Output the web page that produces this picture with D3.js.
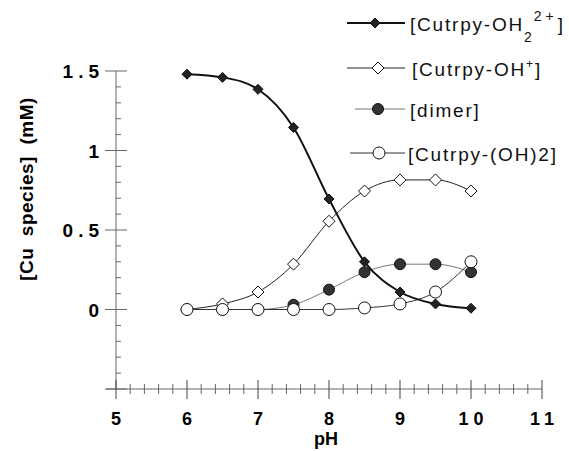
<!DOCTYPE html>
<html>
<head>
<meta charset="utf-8">
<script src="https://cdn.jsdelivr.net/npm/d3@7"></script>
<style>
  body { margin: 0; background: #fff; }
  text { font-family: "Liberation Sans", Arial, sans-serif; }
</style>
</head>
<body>
<script>
// data
let pH = [6, 6.5, 7, 7.5, 8, 8.5, 9, 9.5, 10]
let aqua = [1.48, 1.46, 1.385, 1.145, 0.695, 0.30, 0.11, 0.035, 0.008]
let hydroxo = [0, 0.035, 0.11, 0.285, 0.555, 0.745, 0.815, 0.815, 0.745]
let dimer = [0, 0, 0, 0.03, 0.125, 0.235, 0.285, 0.285, 0.235]
let dihydroxo = [0, 0, 0, 0, 0, 0.01, 0.035, 0.11, 0.30]
let xTicks = [5, 6, 7, 8, 9, 10, 11]
let yTicks = [0, 0.5, 1, 1.5]

let width = 569, height = 451

let svg = d3.select('body').append('svg')
  .attr('width', width)
  .attr('height', height)

let xScale = d3.scaleLinear().domain([5, 11]).range([116, 542])
let yScale = d3.scaleLinear().domain([-0.5, 1.5]).range([389, 71])

let axisCol = '#666'

// y axis
svg.append('line')
  .attr('x1', xScale(5)).attr('x2', xScale(5))
  .attr('y1', yScale(1.5)).attr('y2', yScale(-0.5))
  .attr('stroke', axisCol)
d3.range(-0.5, 1.501, 0.1).forEach(v => {
  let major = Math.abs(v * 2 - Math.round(v * 2)) < 1e-6
  svg.append('line')
    .attr('x1', major ? 105 : xScale(5))
    .attr('x2', major ? 127 : xScale(5) + 5)
    .attr('y1', yScale(v)).attr('y2', yScale(v))
    .attr('stroke', axisCol)
})
svg.selectAll('.ylab').data(yTicks).enter().append('text')
  .attr('x', 104)
  .attr('y', d => yScale(d) + 7)
  .attr('text-anchor', 'end')
  .style('font-size', '19px').style('font-weight', 'bold')
  .style('letter-spacing', '5px')
  .text(d => d)

// x axis
svg.append('line')
  .attr('x1', 106).attr('x2', xScale(11))
  .attr('y1', yScale(-0.5)).attr('y2', yScale(-0.5))
  .attr('stroke', axisCol)
d3.range(5, 11.001, 0.2).forEach(v => {
  let major = Math.abs(v - Math.round(v)) < 1e-6
  svg.append('line')
    .attr('x1', xScale(v)).attr('x2', xScale(v))
    .attr('y1', yScale(-0.5) - (major ? 9 : 5))
    .attr('y2', yScale(-0.5) + (major ? 10 : 5))
    .attr('stroke', major ? '#444' : axisCol)
})
svg.selectAll('.xlab').data(xTicks).enter().append('text')
  .attr('x', d => xScale(d) + (d >= 10 ? 2.5 : 0))
  .attr('y', 425)
  .attr('text-anchor', 'middle')
  .style('font-size', '18px').style('font-weight', 'bold')
  .style('letter-spacing', d => d >= 10 ? '5px' : '0px')
  .text(d => d)

// axis titles
svg.append('text')
  .attr('x', 326).attr('y', 445)
  .attr('text-anchor', 'middle')
  .style('font-size', '18px').style('font-weight', 'bold')
  .text('pH')
svg.append('text')
  .attr('transform', 'translate(33,189) rotate(-90)')
  .attr('text-anchor', 'middle')
  .style('font-size', '19px').style('font-weight', 'bold')
  .style('letter-spacing', '0.5px')
  .style('white-space', 'pre')
  .text('[Cu  species]  (mM)')

// series
let series = [
  {name: 'aqua', values: aqua, stroke: '#111', sw: 2, marker: 'diamondFill'},
  {name: 'hydroxo', values: hydroxo, stroke: '#222', sw: 1, marker: 'diamondOpen'},
  {name: 'dimer', values: dimer, stroke: '#777', sw: 1, marker: 'circleFill'},
  {name: 'dihydroxo', values: dihydroxo, stroke: '#333', sw: 1, marker: 'circleOpen'}
]

let line = d3.line()
  .x(d => xScale(d[0]))
  .y(d => yScale(d[1]))
  .curve(d3.curveMonotoneX)

function drawMarker(g, type, x, y) {
  if (type === 'diamondFill') {
    g.append('path').attr('d', `M${x},${y-5}L${x+5},${y}L${x},${y+5}L${x-5},${y}Z`)
      .attr('fill', '#222').attr('stroke', '#111')
  } else if (type === 'diamondOpen') {
    g.append('path').attr('d', `M${x},${y-6}L${x+6},${y}L${x},${y+6}L${x-6},${y}Z`)
      .attr('fill', '#fff').attr('stroke', '#111')
  } else if (type === 'circleFill') {
    g.append('circle').attr('cx', x).attr('cy', y).attr('r', 5.5)
      .attr('fill', '#333').attr('stroke', '#111')
  } else {
    g.append('circle').attr('cx', x).attr('cy', y).attr('r', 6)
      .attr('fill', '#fff').attr('stroke', '#111')
  }
}

// draw from back to front
let order = [2, 1, 3, 0]
order.forEach(i => {
  let s = series[i]
  let pts = pH.map((p, j) => [p, s.values[j]])
  let g = svg.append('g')
  g.append('path')
    .attr('d', line(pts))
    .attr('fill', 'none')
    .attr('stroke', s.stroke)
    .attr('stroke-width', s.sw)
  pts.forEach(p => drawMarker(g, s.marker, xScale(p[0]), yScale(p[1])))
})

// legend
let legRows = [
  {y: 23, x1: 347, mx: 375},
  {y: 68, x1: 347, mx: 378},
  {y: 109, x1: 355, mx: 378},
  {y: 153, x1: 350, mx: 379}
]
legRows.forEach((r, i) => {
  let s = series[i]
  let g = svg.append('g')
  g.append('line')
    .attr('x1', r.x1).attr('x2', 405)
    .attr('y1', r.y).attr('y2', r.y)
    .attr('stroke', s.stroke).attr('stroke-width', s.sw)
  drawMarker(g, s.marker, r.mx, r.y)
})
let legFont = s => s.style('font-size', '19px').style('letter-spacing', '1.8px').attr('fill', '#111')

let t0 = svg.append('text').attr('x', 410).attr('y', 31).call(legFont)
t0.append('tspan').text('[Cutrpy-OH')
t0.append('tspan').attr('dy', 11).style('font-size', '14px').text('2')
t0.append('tspan').attr('dy', -21).style('font-size', '14px').style('letter-spacing', '4px').text('2+')
t0.append('tspan').attr('dy', 10).text(']')

let t1 = svg.append('text').attr('x', 412).attr('y', 76).call(legFont)
t1.append('tspan').text('[Cutrpy-OH')
t1.append('tspan').attr('dy', -8).style('font-size', '12px').text('+')
t1.append('tspan').attr('dy', 8).text(']')

svg.append('text').attr('x', 410).attr('y', 117).call(legFont).text('[dimer]')
svg.append('text').attr('x', 408).attr('y', 161).call(legFont).text('[Cutrpy-(OH)2]')
</script>
</body>
</html>
